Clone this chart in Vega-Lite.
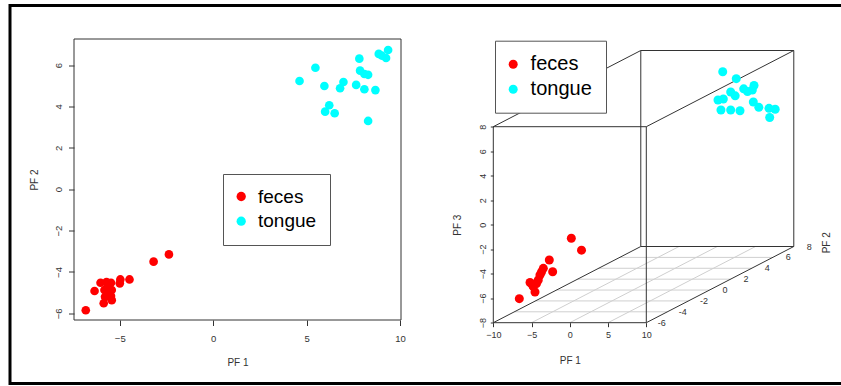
{
  "$schema": "https://vega.github.io/schema/vega-lite/v6.json",
  "width": 834,
  "height": 378,
  "autosize": {"type": "none"},
  "padding": {"left": 10, "top": 5.5, "right": 0, "bottom": 2.5},
  "background": "white",
  "config": {
    "view": {"stroke": "black", "strokeWidth": 3, "fill": "white"},
    "font": "Liberation Sans"
  },
  "datasets": {
    "left": [
      {"pf1": -6.82, "pf2": -5.85, "group": "feces"},
      {"pf1": -6.35, "pf2": -4.92, "group": "feces"},
      {"pf1": -6.03, "pf2": -4.52, "group": "feces"},
      {"pf1": -5.71, "pf2": -4.49, "group": "feces"},
      {"pf1": -5.47, "pf2": -4.52, "group": "feces"},
      {"pf1": -5.82, "pf2": -4.87, "group": "feces"},
      {"pf1": -5.43, "pf2": -4.87, "group": "feces"},
      {"pf1": -5.79, "pf2": -5.2, "group": "feces"},
      {"pf1": -5.47, "pf2": -5.16, "group": "feces"},
      {"pf1": -5.86, "pf2": -5.51, "group": "feces"},
      {"pf1": -5.43, "pf2": -5.36, "group": "feces"},
      {"pf1": -5.0, "pf2": -4.55, "group": "feces"},
      {"pf1": -4.97, "pf2": -4.36, "group": "feces"},
      {"pf1": -4.48, "pf2": -4.36, "group": "feces"},
      {"pf1": -3.19, "pf2": -3.5, "group": "feces"},
      {"pf1": -2.37, "pf2": -3.15, "group": "feces"},
      {"pf1": -5.65, "pf2": -4.75, "group": "feces"},
      {"pf1": -5.6, "pf2": -5.0, "group": "feces"},
      {"pf1": 9.36, "pf2": 6.73, "group": "tongue"},
      {"pf1": 8.86, "pf2": 6.54, "group": "tongue"},
      {"pf1": 9.02, "pf2": 6.46, "group": "tongue"},
      {"pf1": 9.25, "pf2": 6.34, "group": "tongue"},
      {"pf1": 7.82, "pf2": 6.31, "group": "tongue"},
      {"pf1": 5.47, "pf2": 5.87, "group": "tongue"},
      {"pf1": 7.86, "pf2": 5.73, "group": "tongue"},
      {"pf1": 8.09, "pf2": 5.57, "group": "tongue"},
      {"pf1": 8.29, "pf2": 5.53, "group": "tongue"},
      {"pf1": 4.62, "pf2": 5.23, "group": "tongue"},
      {"pf1": 6.97, "pf2": 5.18, "group": "tongue"},
      {"pf1": 6.79, "pf2": 4.88, "group": "tongue"},
      {"pf1": 5.95, "pf2": 4.99, "group": "tongue"},
      {"pf1": 7.65, "pf2": 5.04, "group": "tongue"},
      {"pf1": 8.09, "pf2": 4.83, "group": "tongue"},
      {"pf1": 8.68, "pf2": 4.79, "group": "tongue"},
      {"pf1": 6.21, "pf2": 4.06, "group": "tongue"},
      {"pf1": 5.99, "pf2": 3.75, "group": "tongue"},
      {"pf1": 6.5, "pf2": 3.67, "group": "tongue"},
      {"pf1": 8.29, "pf2": 3.3, "group": "tongue"}
    ],
    "leftbox": [{"x1": -7.45, "x2": 10.05, "y1": -6.32, "y2": 7.26}],
    "right": [
      {"h": -6.6, "v": -6.04, "group": "feces"},
      {"h": -5.2, "v": -4.72, "group": "feces"},
      {"h": -4.55, "v": -5.49, "group": "feces"},
      {"h": -4.77, "v": -5.06, "group": "feces"},
      {"h": -4.12, "v": -4.51, "group": "feces"},
      {"h": -3.9, "v": -4.11, "group": "feces"},
      {"h": -3.46, "v": -3.56, "group": "feces"},
      {"h": -2.68, "v": -2.88, "group": "feces"},
      {"h": -2.24, "v": -3.84, "group": "feces"},
      {"h": 0.2, "v": -1.11, "group": "feces"},
      {"h": 1.53, "v": -2.08, "group": "feces"},
      {"h": -4.35, "v": -4.8, "group": "feces"},
      {"h": -3.7, "v": -3.86, "group": "feces"},
      {"h": -4.9, "v": -4.9, "group": "feces"},
      {"h": 19.99, "v": 12.49, "group": "tongue"},
      {"h": 21.76, "v": 11.92, "group": "tongue"},
      {"h": 19.37, "v": 10.18, "group": "tongue"},
      {"h": 20.07, "v": 10.26, "group": "tongue"},
      {"h": 21.03, "v": 10.83, "group": "tongue"},
      {"h": 21.62, "v": 10.52, "group": "tongue"},
      {"h": 22.73, "v": 11.09, "group": "tongue"},
      {"h": 23.23, "v": 10.87, "group": "tongue"},
      {"h": 24.08, "v": 11.36, "group": "tongue"},
      {"h": 23.86, "v": 11.0, "group": "tongue"},
      {"h": 19.76, "v": 9.36, "group": "tongue"},
      {"h": 21.03, "v": 9.36, "group": "tongue"},
      {"h": 22.25, "v": 9.3, "group": "tongue"},
      {"h": 23.99, "v": 10.02, "group": "tongue"},
      {"h": 24.71, "v": 9.58, "group": "tongue"},
      {"h": 26.04, "v": 9.5, "group": "tongue"},
      {"h": 26.85, "v": 9.42, "group": "tongue"},
      {"h": 26.13, "v": 8.75, "group": "tongue"}
    ],
    "box3d": [
      {"h": -10, "v": -8, "h2": 10, "v2": -8},
      {"h": 10, "v": -8, "h2": 10, "v2": 8},
      {"h": 10, "v": 8, "h2": -10, "v2": 8},
      {"h": -10, "v": 8, "h2": -10, "v2": -8},
      {"h": 9.28, "v": -1.78, "h2": 29.28, "v2": -1.78},
      {"h": 29.28, "v": -1.78, "h2": 29.28, "v2": 14.22},
      {"h": 29.28, "v": 14.22, "h2": 9.28, "v2": 14.22},
      {"h": 9.28, "v": 14.22, "h2": 9.28, "v2": -1.78},
      {"h": -10, "v": -8, "h2": 9.28, "v2": -1.78},
      {"h": 10, "v": -8, "h2": 29.28, "v2": -1.78},
      {"h": 10, "v": 8, "h2": 29.28, "v2": 14.22},
      {"h": -10, "v": 8, "h2": 9.28, "v2": 14.22}
    ],
    "grid3d": [
      {"h": -7.246, "v": -7.111, "h2": 12.754, "v2": -7.111},
      {"h": -4.491, "v": -6.223, "h2": 15.509, "v2": -6.223},
      {"h": -1.737, "v": -5.334, "h2": 18.263, "v2": -5.334},
      {"h": 1.017, "v": -4.446, "h2": 21.017, "v2": -4.446},
      {"h": 3.771, "v": -3.557, "h2": 23.771, "v2": -3.557},
      {"h": 6.526, "v": -2.669, "h2": 26.526, "v2": -2.669},
      {"h": -5, "v": -8, "h2": 14.28, "v2": -1.78},
      {"h": 0, "v": -8, "h2": 19.28, "v2": -1.78},
      {"h": 5, "v": -8, "h2": 24.28, "v2": -1.78}
    ],
    "pf2ticks": [
      {"pf2": "-6", "h": 10.0, "v": -8.0},
      {"pf2": "-4", "h": 12.754, "v": -7.111},
      {"pf2": "-2", "h": 15.509, "v": -6.223},
      {"pf2": "0", "h": 18.263, "v": -5.334},
      {"pf2": "2", "h": 21.017, "v": -4.446},
      {"pf2": "4", "h": 23.771, "v": -3.557},
      {"pf2": "6", "h": 26.526, "v": -2.669},
      {"pf2": "8", "h": 29.28, "v": -1.78}
    ],
    "pf2title": [{"label": "PF 2", "h": 29.28, "v": -1.78}]
  },
  "layer": [
    {
      "data": {"name": "leftbox"},
      "mark": {"type": "rect", "filled": false, "stroke": "#333", "strokeWidth": 1},
      "encoding": {
        "x": {"field": "x1", "type": "quantitative", "scale": {"domain": [-7.45, 10.05], "range": [64, 391], "nice": false, "zero": false}, "axis": null},
        "x2": {"field": "x2"},
        "y": {"field": "y1", "type": "quantitative", "scale": {"domain": [-6.32, 7.26], "range": [314.5, 33.5], "nice": false, "zero": false}, "axis": null},
        "y2": {"field": "y2"}
      }
    },
    {
      "data": {"name": "left"},
      "mark": {"type": "circle", "size": 75, "opacity": 1},
      "encoding": {
        "x": {
          "field": "pf1", "type": "quantitative",
          "scale": {"domain": [-7.45, 10.05], "range": [64, 391], "nice": false, "zero": false},
          "axis": {"orient": "bottom", "offset": -63.5, "values": [-5, 0, 5, 10], "grid": false, "domain": false, "tickSize": 5.5, "tickColor": "#333", "labelFontSize": 9.5, "labelColor": "#333", "labelPadding": 8, "labelFlush": false, "labelOverlap": false, "title": "PF 1", "titleFontSize": 10, "titleFontWeight": "normal", "titleColor": "#333", "titlePadding": 14}
        },
        "y": {
          "field": "pf2", "type": "quantitative",
          "scale": {"domain": [-6.32, 7.26], "range": [314.5, 33.5], "nice": false, "zero": false},
          "axis": {"orient": "left", "offset": -64, "values": [-6, -4, -2, 0, 2, 4, 6], "grid": false, "domain": false, "tickSize": 5.5, "tickColor": "#333", "labelFontSize": 9.5, "labelColor": "#333", "labelAngle": 270, "labelAlign": "center", "labelBaseline": "alphabetic", "labelPadding": 7.5, "labelFlush": false, "labelOverlap": false, "title": "PF 2", "titleFontSize": 10, "titleFontWeight": "normal", "titleColor": "#333", "titlePadding": 14}
        },
        "color": {
          "field": "group", "type": "nominal",
          "scale": {"domain": ["feces", "tongue"], "range": ["#FF0000", "#00FFFF"]},
          "legend": {"title": null, "orient": "none", "legendX": 213, "legendY": 168.5, "padding": 13, "strokeColor": "#555", "fillColor": "white", "cornerRadius": 0, "labelFontSize": 19, "labelColor": "black", "labelFont": "Liberation Sans", "symbolSize": 86, "symbolType": "circle", "symbolOpacity": 1, "symbolStrokeWidth": 0, "symbolOffset": -4.3, "rowPadding": 4.7, "labelOffset": 7.3, "zindex": 1}
        }
      }
    },
    {
      "data": {"name": "grid3d"},
      "mark": {"type": "rule", "stroke": "#cfcfcf", "strokeWidth": 1},
      "encoding": {
        "x": {"field": "h", "type": "quantitative", "scale": {"domain": [-10, 10], "range": [483.3, 636.3], "nice": false, "zero": false}, "axis": null},
        "y": {"field": "v", "type": "quantitative", "scale": {"domain": [-8, 8], "range": [317.2, 121.2], "nice": false, "zero": false}, "axis": null},
        "x2": {"field": "h2"},
        "y2": {"field": "v2"}
      }
    },
    {
      "data": {"name": "box3d"},
      "mark": {"type": "rule", "stroke": "#333", "strokeWidth": 1},
      "encoding": {
        "x": {"field": "h", "type": "quantitative", "scale": {"domain": [-10, 10], "range": [483.3, 636.3], "nice": false, "zero": false}, "axis": null},
        "y": {"field": "v", "type": "quantitative", "scale": {"domain": [-8, 8], "range": [317.2, 121.2], "nice": false, "zero": false}, "axis": null},
        "x2": {"field": "h2"},
        "y2": {"field": "v2"}
      }
    },
    {
      "data": {"name": "pf2ticks"},
      "mark": {"type": "text", "fontSize": 9, "font": "Liberation Sans", "fill": "#333", "align": "center", "baseline": "middle", "dx": 15.5},
      "encoding": {
        "x": {"field": "h", "type": "quantitative", "scale": {"domain": [-10, 10], "range": [483.3, 636.3], "nice": false, "zero": false}, "axis": null},
        "y": {"field": "v", "type": "quantitative", "scale": {"domain": [-8, 8], "range": [317.2, 121.2], "nice": false, "zero": false}, "axis": null},
        "text": {"field": "pf2"}
      }
    },
    {
      "data": {"name": "pf2title"},
      "mark": {"type": "text", "fontSize": 10, "font": "Liberation Sans", "fill": "#333", "align": "center", "baseline": "middle", "angle": 270, "dx": 3.7, "dy": 33},
      "encoding": {
        "x": {"field": "h", "type": "quantitative", "scale": {"domain": [-10, 10], "range": [483.3, 636.3], "nice": false, "zero": false}, "axis": null},
        "y": {"field": "v", "type": "quantitative", "scale": {"domain": [-8, 8], "range": [317.2, 121.2], "nice": false, "zero": false}, "axis": null},
        "text": {"field": "label"}
      }
    },
    {
      "data": {"name": "right"},
      "mark": {"type": "circle", "size": 81, "opacity": 1},
      "encoding": {
        "x": {
          "field": "h", "type": "quantitative",
          "scale": {"domain": [-10, 10], "range": [483.3, 636.3], "nice": false, "zero": false},
          "axis": {"orient": "bottom", "offset": -60.8, "values": [-10, -5, 0, 5, 10], "grid": false, "domain": false, "tickSize": 4, "tickColor": "#333", "labelFontSize": 9, "labelColor": "#333", "labelPadding": 4, "labelFlush": false, "labelOverlap": false, "title": "PF 1", "titleFontSize": 10, "titleFontWeight": "normal", "titleColor": "#333", "titlePadding": 16}
        },
        "y": {
          "field": "v", "type": "quantitative",
          "scale": {"domain": [-8, 8], "range": [317.2, 121.2], "nice": false, "zero": false},
          "axis": {"orient": "left", "offset": -483.3, "values": [-8, -6, -4, -2, 0, 2, 4, 6, 8], "grid": false, "domain": false, "tickSize": 3, "tickColor": "#333", "labelFontSize": 9, "labelColor": "#333", "labelAngle": 270, "labelAlign": "center", "labelBaseline": "alphabetic", "labelPadding": 5, "labelFlush": false, "labelOverlap": false, "title": "PF 3", "titleFontSize": 10, "titleFontWeight": "normal", "titleColor": "#333", "titlePadding": 16}
        },
        "color": {
          "field": "group", "type": "nominal",
          "scale": {"domain": ["feces", "tongue"], "range": ["#FF0000", "#00FFFF"]},
          "legend": {"title": null, "orient": "none", "legendX": 485, "legendY": 35.2, "padding": 13.5, "strokeColor": "#555", "fillColor": "white", "cornerRadius": 0, "labelFontSize": 20, "labelColor": "black", "labelFont": "Liberation Sans", "symbolSize": 81, "symbolType": "circle", "symbolOpacity": 1, "symbolStrokeWidth": 0, "symbolOffset": -5.3, "rowPadding": 5, "labelOffset": 7.4, "zindex": 1}
        }
      }
    }
  ],
  "resolve": {
    "scale": {"x": "independent", "y": "independent", "color": "independent"},
    "axis": {"x": "independent", "y": "independent"},
    "legend": {"color": "independent"}
  }
}
